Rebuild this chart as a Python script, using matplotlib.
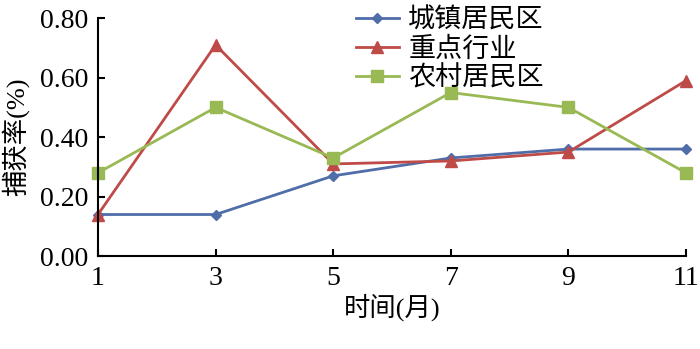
import matplotlib
matplotlib.use("Agg")
import matplotlib.pyplot as plt

plt.rcParams['font.family'] = ['Liberation Serif', 'Noto Sans CJK SC', 'DejaVu Sans']

months = [1, 3, 5, 7, 9, 11]
urban = [0.14, 0.14, 0.27, 0.33, 0.36, 0.36]
industry = [0.14, 0.71, 0.31, 0.32, 0.35, 0.59]
rural = [0.28, 0.50, 0.33, 0.55, 0.50, 0.28]
names = ['城镇居民区', '重点行业', '农村居民区']
yticks = [0.0, 0.2, 0.4, 0.6, 0.8]

fig = plt.figure(figsize=(7.0, 3.49), dpi=100)
ax = fig.add_axes([0.14, 0.266, 0.840, 0.682])

ax.plot(months, urban, color='#4F6DA8', lw=2, marker='D', ms=5.5, label=names[0])
ax.plot(months, industry, color='#BE4B48', lw=2, marker='^', ms=9, label=names[1])
ax.plot(months, rural, color='#98B954', lw=2, marker='s', ms=8, label=names[2])

ax.set_xlim(1, 11)
ax.set_ylim(0, 0.8)
ax.set_xticks(months)
ax.set_yticks(yticks)
ax.set_yticklabels([f'{v:.2f}' for v in yticks])
for s in ['top', 'right']:
    ax.spines[s].set_visible(False)
for s in ['left', 'bottom']:
    ax.spines[s].set_linewidth(1.5)
ax.tick_params(direction='in', length=5, width=1.5, labelsize=20, pad=7)
ax.set_xlabel('时间(月)', fontsize=19, labelpad=2)
ax.set_ylabel('捕获率(%)', fontsize=19, labelpad=8)

for l in ax.get_lines():
    l.set_clip_on(False)

ax.legend(loc='upper left', bbox_to_anchor=(0.508, 0.975), bbox_transform=fig.transFigure,
          frameon=False, fontsize=19.5, handlelength=1.6, handletextpad=0.35,
          labelspacing=0.12, borderpad=0.0, borderaxespad=0.0)

fig.savefig('out.png', dpi=100)
